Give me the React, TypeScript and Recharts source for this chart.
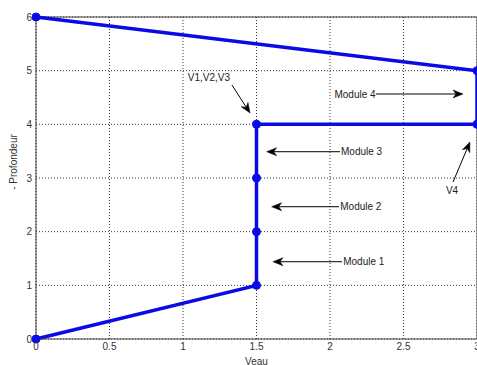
import React from 'react'
import { LineChart, Line, XAxis, YAxis, CartesianGrid, ReferenceLine, ReferenceDot } from 'recharts'

// profile: depth of water vs Veau
const pathX = [0, 1.5, 1.5, 1.5, 1.5, 3, 3, 0]
const pathY = [0, 1, 2, 3, 4, 4, 5, 6]

const xTicks = [0, 0.5, 1, 1.5, 2, 2.5, 3]
const yTicks = [0, 1, 2, 3, 4, 5, 6]

// annotations (data coordinates)
const annText = ['Module 1', 'Module 2', 'Module 3', 'Module 4', 'V1,V2,V3', 'V4']
const annTextX = [2.09, 2.07, 2.075, 2.31, 1.32, 2.83]
const annTextY = [1.44, 2.465, 3.49, 4.565, 4.88, 2.76]
const annAnchor = ['start', 'start', 'start', 'end', 'end', 'middle']
const annFromX = [2.082, 2.061, 2.068, 2.313, 1.333, 2.837]
const annFromY = [1.44, 2.465, 3.49, 4.565, 4.733, 2.925]
const annToX = [1.612, 1.603, 1.569, 2.905, 1.456, 2.952]
const annToY = [1.44, 2.465, 3.49, 4.565, 4.211, 3.671]

const data = pathX.map((x, i) => ({ x, y: pathY[i] }))

const BLUE = '#0a0ae6'
const AXIS = '#404040'
const FONT = '"Liberation Sans", Arial, sans-serif'

const Arrow = (p: any) => {
  const { x1, y1, x2, y2 } = p
  const a = Math.atan2(y2 - y1, x2 - x1)
  const L = 10, W = 4, N = 7
  const cos = Math.cos(a), sin = Math.sin(a)
  const bx = x2 - L * cos, by = y2 - L * sin
  const nx = x2 - N * cos, ny = y2 - N * sin
  const head = `M${x2},${y2} L${bx + W * sin},${by - W * cos} L${nx},${ny} L${bx - W * sin},${by + W * cos} Z`
  return (
    <g>
      <line x1={x1} y1={y1} x2={nx} y2={ny} stroke="#000" strokeWidth={1} />
      <path d={head} fill="#000" stroke="#000" strokeWidth={0.5} />
    </g>
  )
}

export default function App() {
  return (
    <div style={{ position: 'absolute', left: 0, top: 0, width: 477, height: 365, overflow: 'hidden', background: '#fff' }}>
      <LineChart
        width={490}
        height={365}
        data={data}
        margin={{ top: 17, right: 13, left: 0, bottom: 0 }}
        style={{ fontFamily: FONT }}
      >
        <CartesianGrid stroke="#333" strokeDasharray="1 2" strokeWidth={1} />
        <XAxis
          type="number"
          dataKey="x"
          domain={[0, 3]}
          ticks={xTicks}
          height={26}
          tickLine={false}
          tickSize={2}
          tickMargin={2}
          axisLine={{ stroke: AXIS }}
          tick={{ fontSize: 10, fill: '#333' }}
          label={{ value: 'Veau', position: 'insideBottom', offset: 0, fontSize: 10, fill: '#333' }}
        />
        <YAxis
          type="number"
          domain={[0, 6]}
          ticks={yTicks}
          width={36}
          tickLine={false}
          tickSize={2}
          tickMargin={2}
          axisLine={{ stroke: AXIS }}
          tick={{ fontSize: 10, fill: '#333' }}
          label={{
            content: () => (
              <text transform="translate(17,162) rotate(-90)" textAnchor="middle" fontSize={10} fill="#333" fontFamily={FONT}>
                - Profondeur
              </text>
            ),
          }}
        />
        <ReferenceLine y={6} stroke={AXIS} />
        <ReferenceLine x={3} stroke={AXIS} />
        {annText.map((t, i) => (
          <ReferenceLine
            key={'a' + i}
            segment={[{ x: annFromX[i], y: annFromY[i] }, { x: annToX[i], y: annToY[i] }]}
            shape={Arrow}
          />
        ))}
        {annText.map((t, i) => (
          <ReferenceDot
            key={'t' + i}
            x={annTextX[i]}
            y={annTextY[i]}
            r={0}
            shape={(p: any) => (
              <text x={p.cx} y={p.cy} dy="0.35em" textAnchor={annAnchor[i]} fontSize={10} fill="#222" fontFamily={FONT}>
                {t}
              </text>
            )}
          />
        ))}
        <Line
          type="linear"
          dataKey="y"
          stroke={BLUE}
          strokeWidth={3.5}
          dot={{ r: 4, fill: BLUE, stroke: BLUE, strokeWidth: 1 }}
          isAnimationActive={false}
        />
      </LineChart>
    </div>
  )
}
